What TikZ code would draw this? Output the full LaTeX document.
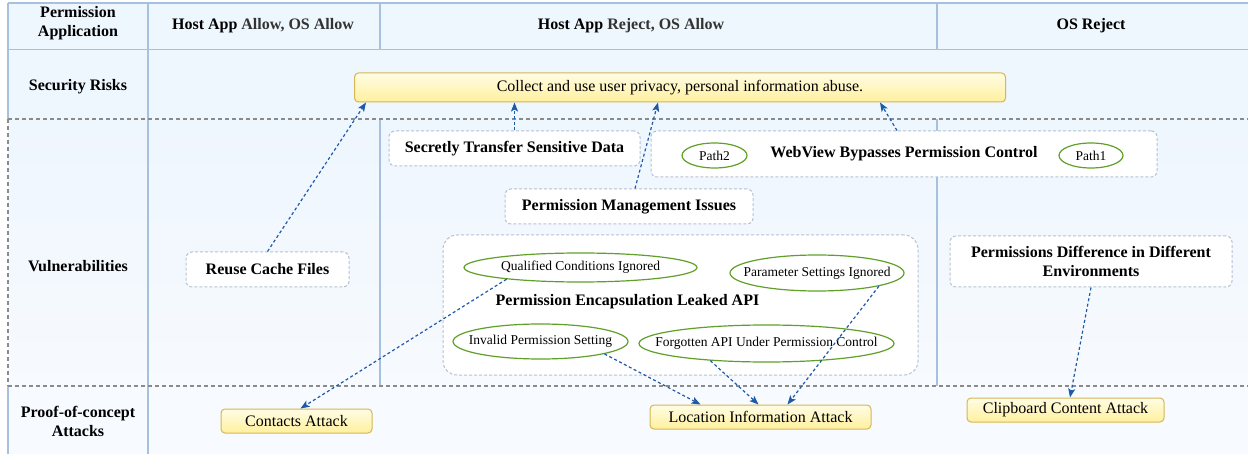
\documentclass[tikz,border=0pt]{standalone}
\usepackage{fontspec}
\setmainfont{Liberation Serif}
\usetikzlibrary{arrows.meta,calc,shapes.geometric}
\definecolor{gridblue}{RGB}{166,192,222}
\definecolor{cellblue}{RGB}{238,246,254}
\definecolor{cellpale}{RGB}{247,250,254}
\definecolor{rowgray}{RGB}{138,138,138}
\definecolor{boxgray}{RGB}{181,194,211}
\definecolor{linkblue}{RGB}{30,90,170}
\definecolor{ellgreen}{RGB}{96,160,40}
\definecolor{goldline}{RGB}{214,182,86}
\definecolor{pale}{RGB}{255,252,228}
\definecolor{gold}{RGB}{255,240,158}

\begin{document}
\begin{tikzpicture}[x=1pt,y=-1pt,
    hdr/.style={font=\bfseries\fontsize{16}{19}\selectfont,align=center},
    vulnbox/.style={draw=boxgray,line width=1pt,dash pattern=on 3pt off 2pt,fill=white,rounded corners=6pt,inner sep=0pt,font=\bfseries\fontsize{16}{19}\selectfont,align=center},
    attackbox/.style={draw=goldline,line width=1pt,rounded corners=4pt,top color=pale,bottom color=gold,inner sep=0pt,font=\fontsize{16}{19}\selectfont},
    subell/.style={ellipse,draw=ellgreen,line width=1.2pt,fill=white,inner xsep=-40pt,inner ysep=0pt,font=\fontsize{13.5}{15}\selectfont},
    link/.style={draw=linkblue,line width=1.2pt,dash pattern=on 3pt off 2.5pt,-{Stealth[length=9pt,width=7pt,inset=2pt]}},
    gridline/.style={draw=gridblue,line width=1.2pt},
    rowline/.style={draw=rowgray,line width=1.2pt,dash pattern=on 4pt off 3pt}]
  \useasboundingbox (0,0) rectangle (1248,454);
  \fill[cellblue] (8,3) rectangle (1250,119);
  \shade[top color=cellblue,bottom color=cellpale] (8,119) rectangle (1250,386);
  \fill[cellpale] (8,386) rectangle (1250,454);
  \draw[gridline] (8,3) -- (1250,3);
  \draw[gridline,line width=1.6pt] (8,49.5) -- (1250,49.5);
  \draw[gridline] (8,3) -- (8,119) (8,386) -- (8,454);
  \draw[gridline] (148,3) -- (148,454);
  \foreach \x in {380,937}
    \draw[gridline] (\x,3) -- (\x,49) (\x,119) -- (\x,386);
  \draw[rowline] (8,119) -- (1250,119) (8,386) -- (1250,386) (8,119) -- (8,386);

  \node[hdr] (lblPerm) at (78,23.5) {Permission\\Application};
  \node[hdr] (hAllow) at (263,26) {Host App \textcolor{black!80}{Allow, OS Allow}};
  \node[hdr] (hReject) at (631,26) {Host App \textcolor{black!80}{Reject, OS Allow}};
  \node[hdr] (hOsReject) at (1091,26) {OS Reject};
  \node[hdr] (lblRisk) at (78,87) {Security Risks};
  \node[hdr] (lblVuln) at (78,266) {Vulnerabilities};
  \node[hdr] (lblPoc) at (78,421) {Proof-of-concept\\Attacks};

  \node[attackbox,minimum width=651pt,minimum height=29pt] (risk) at (680,87.5) {Collect and use user privacy, personal information abuse.};

  \node[vulnbox,minimum width=163pt,minimum height=35pt] (vReuse) at (267.5,269.5) {Reuse Cache Files};
  \node[vulnbox,minimum width=251pt,minimum height=35pt] (vSecret) at (514.5,148.5) {Secretly Transfer Sensitive Data};
  \node[vulnbox,minimum width=506pt,minimum height=46pt] (vWeb) at (904,154) {WebView Bypasses Permission Control};
  \node[subell,minimum width=65pt,minimum height=25pt] (p2) at (714.5,155.5) {Path2};
  \node[subell,minimum width=64pt,minimum height=25pt] (p1) at (1091,155.5) {Path1};
  \node[vulnbox,minimum width=248pt,minimum height=35pt] (vMgmt) at (629,206.5) {Permission Management Issues};
  \node[vulnbox,rounded corners=14pt,minimum width=475pt,minimum height=140pt] (vLeak) at (680.5,305) {};
  \node[hdr] (leakTitle) at (627.5,302) {Permission Encapsulation Leaked API};
  \node[subell,minimum width=233pt,minimum height=29pt] (eQual) at (580.5,267.5) {Qualified Conditions Ignored};
  \node[subell,minimum width=174pt,minimum height=36pt] (eParam) at (817,273) {Parameter Settings Ignored};
  \node[subell,minimum width=175pt,minimum height=35pt] (eInvalid) at (540.5,341.5) {Invalid Permission Setting};
  \node[subell,minimum width=255pt,minimum height=37pt] (eForgot) at (766.5,343.5) {Forgotten API Under Permission Control};
  \node[vulnbox,minimum width=282pt,minimum height=51pt] (vDiff) at (1091,261.5) {Permissions Difference in Different\\Environments};

  \node[attackbox,minimum width=151pt,minimum height=24pt] (aContacts) at (296.5,421) {Contacts Attack};
  \node[attackbox,minimum width=221pt,minimum height=24pt] (aLoc) at (760.5,417) {Location Information Attack};
  \node[attackbox,minimum width=197pt,minimum height=24pt] (aClip) at (1065.5,410) {Clipboard Content Attack};

  \draw[link] (vReuse.north) -- ($(risk.south west)+(12,0)$);
  \draw[link] (vSecret.north) -- (vSecret.north |- risk.south);
  \draw[link] ($(vMgmt.north)+(6,0)$) -- ($(risk.south)+(-22,0)$);
  \draw[link] ($(vWeb.north)+(-7,0)$) -- ($(risk.south)+(200,0)$);
  \draw[link] (eQual.-171) -- ($(aContacts.north)+(4,0)$);
  \draw[link] (eInvalid.-11) -- ($(aLoc.north west)+(51,0)$);
  \draw[link] (eForgot.-163) -- ($(aLoc.north west)+(109,0)$);
  \draw[link] (eParam.-12) -- ($(aLoc.north west)+(138,0)$);
  \draw[link] (vDiff.south) -- ($(aClip.north)+(4.5,0)$);
\end{tikzpicture}
\end{document}
